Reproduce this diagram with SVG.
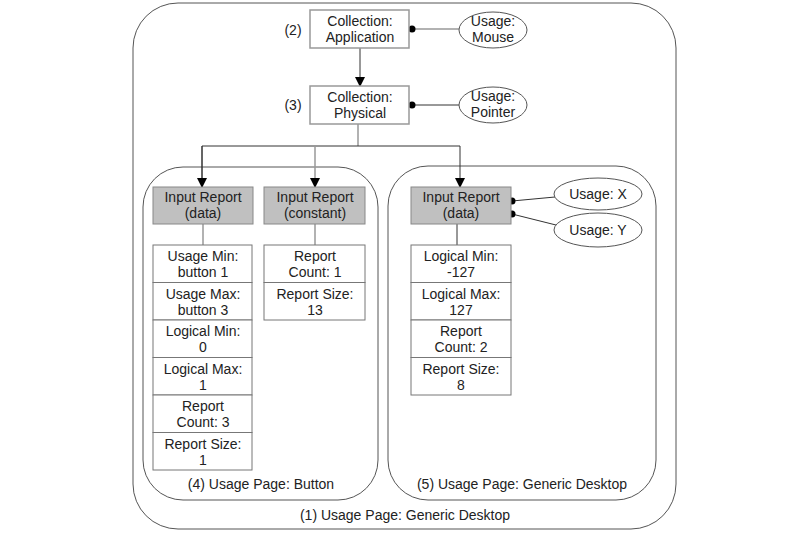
<svg xmlns="http://www.w3.org/2000/svg" width="792" height="533" viewBox="0 0 792 533">
<defs>
<marker id="arr" markerWidth="10" markerHeight="10" refX="9" refY="5" orient="auto" markerUnits="userSpaceOnUse">
<path d="M0,0 L10,5 L0,10 Z" fill="#000"/>
</marker>
<style>
text{font-family:"Liberation Sans",Arial,sans-serif;font-size:14px;fill:#222;text-anchor:middle}
.grp{fill:none;stroke:#555;stroke-width:1}
.box{fill:#fff;stroke:#999;stroke-width:1.5}
.gbox{fill:#c0c0c0;stroke:#888;stroke-width:1}
.cell{fill:#fff;stroke:#777;stroke-width:1}
.ell{fill:#fff;stroke:#555;stroke-width:1}
.dk{fill:none;stroke:#333;stroke-width:1}
.gy{fill:none;stroke:#999;stroke-width:1.5}
.dot{fill:#000}
</style>
</defs>
<rect width="792" height="533" fill="#fff"/>

<g id="page1"><rect class="grp" x="133" y="3" width="543" height="526" rx="45" ry="45"/><text x="405" y="520">(1) Usage Page: Generic Desktop</text></g>
<g id="page4"><rect class="grp" x="143" y="167" width="235" height="333" rx="40" ry="40"/><text x="261" y="489">(4) Usage Page: Button</text></g>
<g id="page5"><rect class="grp" x="388" y="166" width="268" height="334" rx="40" ry="40"/><text x="522" y="489">(5) Usage Page: Generic Desktop</text></g>

<g id="connectors">
<line class="gy" x1="412" y1="29" x2="459" y2="29"/>
<circle class="dot" cx="412" cy="29" r="3.5"/>
<line class="dk" x1="360" y1="48" x2="360" y2="86" marker-end="url(#arr)"/>
<line class="dk" x1="412" y1="105" x2="459" y2="105"/>
<circle class="dot" cx="412" cy="105" r="3.5"/>
<line class="gy" x1="358" y1="124" x2="358" y2="146"/>
<polyline class="dk" points="202,187 202,146 460,146 460,187" marker-end="url(#arr)"/>
<line class="dk" x1="202" y1="146" x2="202" y2="187" marker-end="url(#arr)"/>
<line class="gy" x1="315" y1="146" x2="315" y2="187" marker-end="url(#arr)"/>
<line class="gy" x1="203" y1="224" x2="203" y2="245"/>
<line class="gy" x1="315" y1="224" x2="315" y2="245"/>
<line class="dk" x1="457" y1="224" x2="457" y2="245"/>
<line class="dk" x1="512" y1="201" x2="555" y2="197"/>
<line class="dk" x1="512" y1="214" x2="556" y2="225"/>
<circle class="dot" cx="512" cy="201" r="3.5"/>
<circle class="dot" cx="512" cy="214" r="3.5"/>
</g>

<g id="label2"><text x="293" y="35">(2)</text></g>
<g id="label3"><text x="293" y="110">(3)</text></g>

<g id="collection-application"><rect class="box" x="310" y="10" width="99" height="38"/><text x="360" y="26">Collection:</text><text x="360" y="42">Application</text></g>
<g id="usage-mouse"><ellipse class="ell" cx="493" cy="30" rx="34" ry="18"/><text x="493" y="26">Usage:</text><text x="493" y="42">Mouse</text></g>
<g id="collection-physical"><rect class="box" x="310" y="86" width="99" height="38"/><text x="360" y="102">Collection:</text><text x="360" y="118">Physical</text></g>
<g id="usage-pointer"><ellipse class="ell" cx="493" cy="105" rx="34" ry="18"/><text x="493" y="101">Usage:</text><text x="493" y="117">Pointer</text></g>

<g id="input-data-buttons"><rect class="gbox" x="153" y="187" width="100" height="37"/><text x="203" y="202">Input Report</text><text x="203" y="218">(data)</text></g>
<g id="input-constant"><rect class="gbox" x="264" y="187" width="101" height="37"/><text x="315" y="202">Input Report</text><text x="315" y="218">(constant)</text></g>
<g id="input-data-xy"><rect class="gbox" x="411" y="187" width="100" height="37"/><text x="461" y="202">Input Report</text><text x="461" y="218">(data)</text></g>

<g id="usage-x"><ellipse class="ell" cx="598" cy="194" rx="44" ry="16"/><text x="598" y="199">Usage: X</text></g>
<g id="usage-y"><ellipse class="ell" cx="598" cy="230" rx="44" ry="17"/><text x="598" y="235">Usage: Y</text></g>

<g id="list-buttons">
<rect class="cell" x="153" y="245" width="99" height="37.5"/><text x="203" y="261">Usage Min:</text><text x="203" y="277">button 1</text>
<rect class="cell" x="153" y="282.5" width="99" height="37.5"/><text x="203" y="298.5">Usage Max:</text><text x="203" y="314.5">button 3</text>
<rect class="cell" x="153" y="320" width="99" height="37.5"/><text x="203" y="336">Logical Min:</text><text x="203" y="352">0</text>
<rect class="cell" x="153" y="357.5" width="99" height="37.5"/><text x="203" y="373.5">Logical Max:</text><text x="203" y="389.5">1</text>
<rect class="cell" x="153" y="395" width="99" height="37.5"/><text x="203" y="411">Report</text><text x="203" y="427">Count: 3</text>
<rect class="cell" x="153" y="432.5" width="99" height="37.5"/><text x="203" y="448.5">Report Size:</text><text x="203" y="464.5">1</text>
</g>
<g id="list-constant">
<rect class="cell" x="264" y="245" width="101" height="37.5"/><text x="315" y="261">Report</text><text x="315" y="277">Count: 1</text>
<rect class="cell" x="264" y="282.5" width="101" height="37.5"/><text x="315" y="298.5">Report Size:</text><text x="315" y="314.5">13</text>
</g>
<g id="list-xy">
<rect class="cell" x="411" y="245" width="100" height="37.5"/><text x="461" y="261">Logical Min:</text><text x="461" y="277">-127</text>
<rect class="cell" x="411" y="282.5" width="100" height="37.5"/><text x="461" y="298.5">Logical Max:</text><text x="461" y="314.5">127</text>
<rect class="cell" x="411" y="320" width="100" height="37.5"/><text x="461" y="336">Report</text><text x="461" y="352">Count: 2</text>
<rect class="cell" x="411" y="357.5" width="100" height="37.5"/><text x="461" y="373.5">Report Size:</text><text x="461" y="389.5">8</text>
</g>
</svg>
